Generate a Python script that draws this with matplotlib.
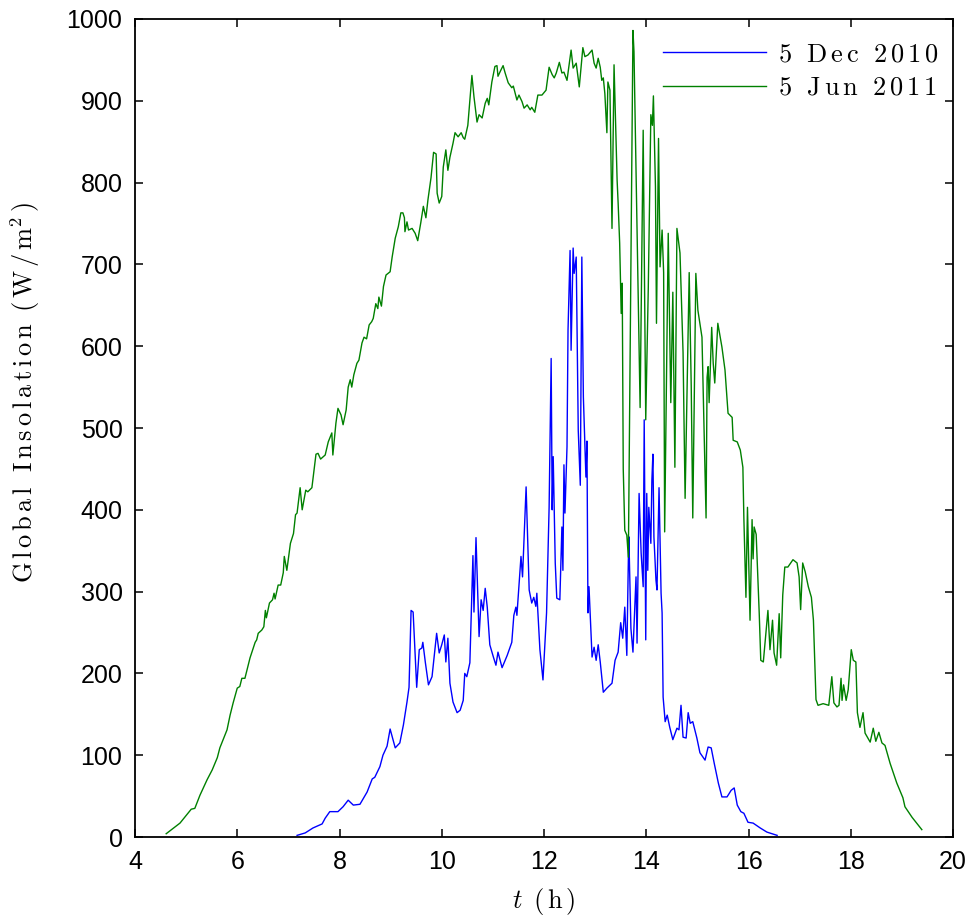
import matplotlib
matplotlib.use('Agg')
import matplotlib.pyplot as plt

# 5 Dec 2010 (hora, W/m2)
t_dec = [7.17, 7.33, 7.48, 7.66, 7.72, 7.81, 7.97, 8.07, 8.17, 8.27, 8.40, 8.54, 8.64, 8.69, 8.79,
         8.85, 8.93, 8.99, 9.02, 9.09, 9.18, 9.25, 9.32, 9.36, 9.40, 9.44, 9.51, 9.56, 9.61, 9.63,
         9.68, 9.74, 9.81, 9.90, 9.95, 10.00, 10.05, 10.08, 10.12, 10.16, 10.22, 10.30, 10.36, 10.42,
         10.45, 10.49, 10.55, 10.61, 10.63, 10.67, 10.73, 10.77, 10.81, 10.85, 10.89, 10.94, 11.01,
         11.06, 11.10, 11.18, 11.28, 11.37, 11.41, 11.45, 11.47, 11.51, 11.55, 11.58, 11.65, 11.71,
         11.76, 11.80, 11.84, 11.86, 11.92, 11.98, 12.05, 12.10, 12.14, 12.16, 12.18, 12.22, 12.25,
         12.31, 12.35, 12.37, 12.39, 12.41, 12.45, 12.47, 12.51, 12.53, 12.57, 12.59, 12.63, 12.67,
         12.71, 12.74, 12.77, 12.82, 12.84, 12.86, 12.88, 12.94, 12.98, 13.02, 13.06, 13.10, 13.16,
         13.23, 13.33, 13.39, 13.45, 13.50, 13.54, 13.58, 13.62, 13.65, 13.66, 13.70, 13.74, 13.80,
         13.82, 13.86, 13.90, 13.94, 13.96, 13.99, 14.01, 14.03, 14.05, 14.09, 14.11, 14.13, 14.15,
         14.19, 14.21, 14.25, 14.29, 14.31, 14.33, 14.37, 14.41, 14.46, 14.52, 14.60, 14.64, 14.68,
         14.72, 14.78, 14.82, 14.86, 14.91, 14.99, 15.05, 15.15, 15.21, 15.27, 15.33, 15.41, 15.48,
         15.58, 15.66, 15.72, 15.78, 15.85, 15.91, 15.99, 16.09, 16.23, 16.36, 16.56]
g_dec = [2, 5, 11, 16, 23, 31, 31, 37, 45, 39, 40, 55, 71, 73, 86,
         100, 111, 132, 125, 109, 115, 137, 165, 183, 277, 275, 183, 229, 231, 238,
         213, 186, 196, 249, 225, 235, 247, 214, 243, 188, 165, 152, 155, 167,
         200, 196, 213, 344, 275, 366, 245, 290, 277, 304, 281, 235, 220,
         210, 226, 207, 222, 238, 271, 281, 271, 308, 343, 318, 428, 302,
         286, 293, 282, 298, 229, 192, 274, 403, 585, 400, 465, 335, 292,
         290, 379, 326, 455, 396, 477, 620, 717, 595, 720, 689, 709, 497,
         430, 709, 538, 440, 484, 274, 306, 220, 232, 216, 235, 214, 177,
         182, 188, 216, 226, 262, 243, 281, 222, 339, 367, 255, 226, 318,
         237, 420, 347, 306, 510, 241, 420, 326, 403, 359, 436, 468, 367,
         314, 302, 427, 298, 274, 171, 141, 149, 134, 119, 133, 131, 161,
         122, 121, 152, 139, 141, 121, 103, 94, 110, 109, 90, 66, 49,
         49, 57, 60, 39, 31, 29, 18, 17, 11, 6, 2]

# 5 Jun 2011
t_jun = [4.61, 4.88, 5.10, 5.17, 5.27, 5.41, 5.51, 5.61, 5.66, 5.80, 5.86, 5.92, 6.00, 6.05, 6.09,
         6.15, 6.25, 6.35, 6.38, 6.41, 6.48, 6.52, 6.55, 6.57, 6.63, 6.69, 6.72, 6.74, 6.80, 6.85,
         6.90, 6.92, 6.97, 7.04, 7.10, 7.14, 7.17, 7.23, 7.27, 7.34, 7.38, 7.46, 7.54, 7.58, 7.63,
         7.72, 7.78, 7.85, 7.87, 7.93, 7.97, 8.03, 8.07, 8.13, 8.17, 8.21, 8.24, 8.28, 8.34, 8.38,
         8.44, 8.48, 8.53, 8.58, 8.63, 8.66, 8.71, 8.75, 8.77, 8.82, 8.86, 8.91, 8.99, 9.03, 9.09,
         9.15, 9.20, 9.24, 9.27, 9.28, 9.32, 9.35, 9.42, 9.48, 9.53, 9.59, 9.64, 9.69, 9.73, 9.79,
         9.84, 9.89, 9.91, 9.95, 10.00, 10.03, 10.08, 10.12, 10.16, 10.22, 10.26, 10.32, 10.38, 10.42,
         10.45, 10.51, 10.59, 10.63, 10.69, 10.73, 10.79, 10.85, 10.89, 10.92, 10.98, 11.04, 11.08,
         11.10, 11.16, 11.20, 11.24, 11.30, 11.37, 11.40, 11.47, 11.51, 11.57, 11.61, 11.67, 11.73,
         11.76, 11.82, 11.88, 11.96, 12.04, 12.10, 12.16, 12.20, 12.24, 12.30, 12.35, 12.39, 12.45,
         12.53, 12.57, 12.63, 12.69, 12.76, 12.80, 12.86, 12.94, 12.98, 13.02, 13.06, 13.10, 13.13,
         13.16, 13.19, 13.23, 13.25, 13.29, 13.33, 13.37, 13.43, 13.45, 13.48, 13.51, 13.53, 13.55,
         13.58, 13.62, 13.65, 13.74, 13.76, 13.88, 13.94, 13.99, 14.04, 14.09, 14.12, 14.14, 14.18,
         14.20, 14.24, 14.27, 14.31, 14.34, 14.36, 14.43, 14.48, 14.52, 14.56, 14.60, 14.66, 14.72,
         14.76, 14.84, 14.88, 14.91, 14.97, 15.01, 15.09, 15.17, 15.19, 15.21, 15.23, 15.28, 15.31,
         15.34, 15.40, 15.48, 15.54, 15.60, 15.68, 15.70, 15.78, 15.84, 15.89, 15.91, 15.95, 15.98,
         16.03, 16.07, 16.09, 16.11, 16.15, 16.21, 16.24, 16.29, 16.38, 16.42, 16.47, 16.50, 16.55,
         16.60, 16.63, 16.67, 16.71, 16.77, 16.87, 16.95, 16.99, 17.02, 17.06, 17.11, 17.17, 17.23,
         17.27, 17.32, 17.36, 17.46, 17.57, 17.63, 17.67, 17.73, 17.77, 17.81, 17.83, 17.86, 17.91,
         17.95, 18.01, 18.05, 18.10, 18.13, 18.18, 18.24, 18.28, 18.38, 18.44, 18.49, 18.55, 18.61,
         18.67, 18.77, 18.90, 19.02, 19.06, 19.20, 19.39]
g_jun = [4, 17, 34, 35, 51, 70, 82, 97, 109, 131, 149, 164, 182, 184, 194,
         194, 219, 238, 241, 249, 253, 257, 277, 268, 286, 290, 298, 291, 308, 308,
         323, 343, 326, 359, 371, 394, 396, 427, 400, 424, 422, 427, 468, 469, 462,
         467, 483, 494, 467, 506, 524, 516, 504, 522, 550, 559, 550, 565, 579, 583,
         604, 611, 609, 626, 630, 634, 652, 646, 660, 649, 673, 687, 691, 709, 732,
         746, 763, 763, 757, 740, 752, 742, 744, 738, 729, 751, 771, 757, 779, 806,
         837, 835, 787, 775, 783, 819, 840, 815, 831, 848, 861, 856, 861, 855,
         853, 870, 931, 905, 874, 883, 879, 897, 903, 895, 923, 942, 943,
         930, 938, 943, 934, 922, 916, 918, 901, 907, 899, 891, 895, 889,
         892, 886, 907, 907, 913, 941, 932, 928, 934, 947, 934, 935, 925,
         962, 940, 946, 917, 965, 954, 956, 962, 946, 940, 952, 941, 925,
         928, 909, 861, 923, 913, 744, 944, 803, 775, 726, 640, 677, 450,
         375, 369, 342, 986, 960, 525, 864, 510, 672, 883, 870, 906, 795,
         628, 854, 697, 742, 690, 373, 738, 531, 666, 452, 744, 714, 592,
         414, 690, 550, 390, 689, 644, 611, 390, 562, 575, 531, 623, 579,
         555, 628, 599, 571, 518, 513, 485, 483, 473, 452, 388, 293, 403,
         265, 388, 340, 379, 370, 273, 216, 214, 277, 229, 265, 225, 210,
         273, 219, 296, 330, 330, 339, 335, 318, 278, 335, 324, 306, 293,
         265, 168, 161, 163, 161, 196, 164, 159, 161, 194, 167, 186, 167,
         180, 229, 216, 214, 152, 134, 152, 127, 116, 133, 117, 128, 115,
         112, 90, 66, 48, 37, 24, 9]

xticks = list(range(4, 21, 2))
yticks = list(range(0, 1001, 100))
labels = ['5 Dec 2010', '5 Jun 2011']


def spaced(s):
    # texto estilo LaTeX com espacamento entre letras
    out = []
    for ch in s:
        out.append(r'\ ' if ch == ' ' else ch)
    return r'\,'.join(out)


def main():
    plt.rcParams['mathtext.fontset'] = 'cm'
    plt.rcParams['font.family'] = ['Liberation Sans', 'DejaVu Sans']

    fig = plt.figure(figsize=(9.73, 9.21), dpi=100)
    ax = fig.add_axes([135 / 973, 84 / 921, 818 / 973, 818 / 921])

    ax.plot(t_dec, g_dec, color=(0, 0, 1), lw=1.0, label='$\\mathrm{' + spaced(labels[0]) + '}$')
    ax.plot(t_jun, g_jun, color=(0, 0.5, 0), lw=1.0, label='$\\mathrm{' + spaced(labels[1]) + '}$')

    ax.set_xlim(4, 20)
    ax.set_ylim(0, 1000)
    ax.set_xticks(xticks)
    ax.set_yticks(yticks)
    ax.tick_params(direction='in', top=True, right=True, length=6, width=1.1,
                   labelsize=18, pad=9)
    for sp in ax.spines.values():
        sp.set_linewidth(1.3)

    ax.set_xlabel(r'$t\ \,(\,\mathrm{h}\,)$', fontsize=19, labelpad=9)
    ax.set_ylabel('$\\mathrm{' + spaced('Global Insolation') + r'\ \,(\,W\,/\,m^2\,)}$',
                  fontsize=19)
    ax.yaxis.set_label_coords(-0.114, 0.543)

    ax.legend(loc='upper right', bbox_to_anchor=(0.989, 0.978), frameon=False,
              fontsize=19, handlelength=3.9, handletextpad=0.45, labelspacing=0.36,
              borderaxespad=0, borderpad=0.2)

    fig.savefig('out.png', dpi=100)


if __name__ == '__main__':
    main()
